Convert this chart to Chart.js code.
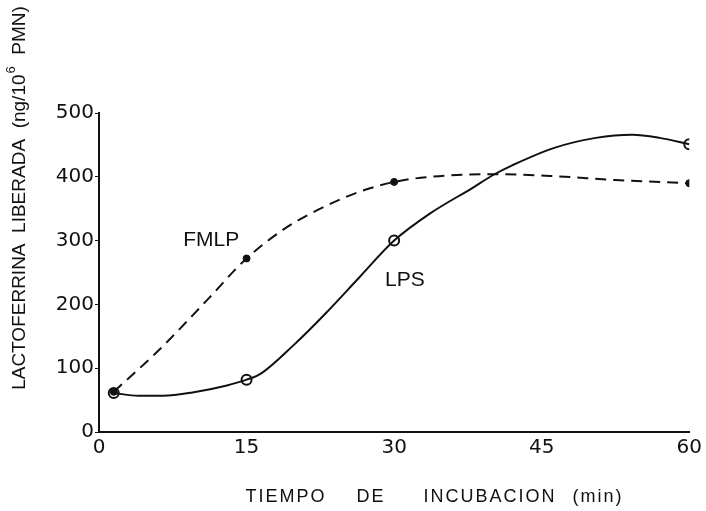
<!DOCTYPE html>
<html>
<head>
<meta charset="utf-8">
<script src="https://cdn.jsdelivr.net/npm/chart.js@4"></script>
<style>
  body { margin: 0; background: #fff; }
  canvas { display: block; }
</style>
</head>
<body>
<canvas id="chart" width="706" height="511"></canvas>
<script>
// measured points
var times = [1.5, 15, 30, 60];
var fmlpValues = [63, 272, 392, 390];
var lpsValues = [61, 82, 300, 451];

// hand drawn curves
var fmlpCurveT = [1.5, 6.2, 11, 15, 19.1, 23.3, 26.2, 30, 33.7, 40.2, 46.2, 52.5, 60];
var fmlpCurveV = [63, 130, 207, 272, 321, 356, 375, 392, 400, 404, 401, 395, 390];
var lpsCurveT = [1.5, 4, 6.5, 9.5, 13, 15, 16.5, 19.7, 23.1, 26.5, 30, 33.7, 37.9, 40.2, 42, 46.2, 50.5, 54.2, 57, 60];
var lpsCurveV = [61, 57, 57, 62, 73, 82, 92, 135, 187, 243, 300, 343, 382, 404, 418, 445, 461, 466, 461, 451];

var xTicks = [0, 15, 30, 45, 60];
var yTicks = [0, 100, 200, 300, 400, 500];

function pts(xs, ys) {
    return xs.map(function(x, i) { return {x: x, y: ys[i]}; });
}

var ink = '#111';

var textPlugin = {
    id: 'texts',
    afterDraw: function(chart) {
        var ctx = chart.ctx;
        var xs = chart.scales.x, ys = chart.scales.y;
        ctx.save();
        ctx.fillStyle = ink;
        ctx.textBaseline = 'middle';

        // series labels
        ctx.font = '21px "Liberation Sans"';
        ctx.textAlign = 'center';
        ctx.fillText('FMLP', xs.getPixelForValue(11.4), ys.getPixelForValue(301));
        ctx.fillText('LPS', xs.getPixelForValue(31.1), ys.getPixelForValue(238));

        // x title
        ctx.font = '18px "Liberation Sans"';
        ctx.letterSpacing = '2px';
        ctx.fillText('TIEMPO', 286, 497);
        ctx.fillText('DE', 371, 497);
        ctx.fillText('INCUBACION', 490, 497);
        ctx.fillText('(min)', 598, 497);
        ctx.letterSpacing = '0px';

        // y title, with superscript
        ctx.translate(20, 198);
        ctx.rotate(-Math.PI / 2);
        ctx.textAlign = 'left';
        var big = '19px "Liberation Sans"', small = '13px "Liberation Sans"';
        var a = 'LACTOFERRINA  LIBERADA  (ng/10', b = '6', c = '  PMN)';
        ctx.font = big;
        var wa = ctx.measureText(a).width, wc = ctx.measureText(c).width;
        ctx.font = small;
        var wb = ctx.measureText(b).width + 2;
        var x0 = -(wa + wb + wc) / 2;
        ctx.font = big;
        ctx.fillText(a, x0, 0);
        ctx.font = small;
        ctx.fillText(b, x0 + wa + 1, -9);
        ctx.font = big;
        ctx.fillText(c, x0 + wa + wb, 0);
        ctx.restore();
    }
};

new Chart(document.getElementById('chart'), {
    type: 'line',
    data: {
        datasets: [{
            label: 'FMLP curve',
            data: pts(fmlpCurveT, fmlpCurveV),
            borderColor: ink,
            borderWidth: 2,
            borderDash: [11, 7],
            pointRadius: 0,
            cubicInterpolationMode: 'monotone',
            fill: false
        }, {
            label: 'LPS curve',
            data: pts(lpsCurveT, lpsCurveV),
            borderColor: ink,
            borderWidth: 2,
            pointRadius: 0,
            cubicInterpolationMode: 'monotone',
            fill: false
        }, {
            label: 'FMLP',
            data: pts(times, fmlpValues),
            showLine: false,
            pointRadius: 3.5,
            pointBackgroundColor: ink,
            pointBorderColor: ink,
            pointBorderWidth: 1
        }, {
            label: 'LPS',
            data: pts(times, lpsValues),
            showLine: false,
            pointRadius: 5,
            pointBackgroundColor: '#fff',
            pointBorderColor: ink,
            pointBorderWidth: 2
        }]
    },
    options: {
        responsive: false,
        animation: false,
        layout: { padding: { left: 0, right: 16, top: 113, bottom: 0 } },
        plugins: {
            legend: { display: false },
            tooltip: { enabled: false }
        },
        scales: {
            x: {
                type: 'linear',
                min: 0,
                max: 60,
                afterBuildTicks: function(scale) {
                    scale.ticks = xTicks.map(function(v) { return {value: v}; });
                },
                ticks: {
                    color: ink,
                    font: { family: 'DejaVu Sans', size: 20 },
                    padding: 4,
                    maxRotation: 0,
                    autoSkip: false
                },
                grid: { display: true, drawOnChartArea: false, drawTicks: false },
                border: { color: ink, width: 2 },
                afterFit: function(scale) { scale.height = 79; }
            },
            y: {
                min: 0,
                max: 500,
                afterBuildTicks: function(scale) {
                    scale.ticks = yTicks.map(function(v) { return {value: v}; });
                },
                ticks: {
                    color: ink,
                    font: { family: 'DejaVu Sans', size: 20 },
                    padding: 1
                },
                grid: { display: true, drawOnChartArea: false, tickLength: 4, color: ink },
                border: { color: ink, width: 2 },
                afterFit: function(scale) { scale.width = 99; }
            }
        }
    },
    plugins: [textPlugin]
});
</script>
</body>
</html>
